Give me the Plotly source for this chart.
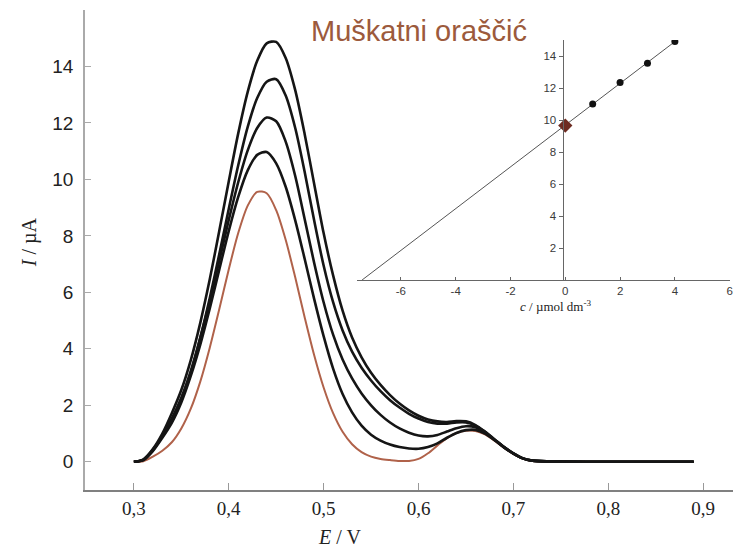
import numpy as np
import plotly.graph_objects as go

# Differential pulse voltammograms: sample (brown) + four standard additions (black)
potential = [0.30, 0.31, 0.32, 0.33, 0.34, 0.35, 0.36, 0.37, 0.38, 0.39,
             0.40, 0.41, 0.42, 0.43, 0.44, 0.45, 0.46, 0.47, 0.48, 0.49,
             0.50, 0.51, 0.52, 0.53, 0.54, 0.55, 0.56, 0.57, 0.58, 0.59,
             0.60, 0.61, 0.62, 0.63, 0.64, 0.65, 0.66, 0.67, 0.68, 0.69,
             0.70, 0.71, 0.72, 0.75, 0.80, 0.85, 0.89]

sample = [0.0, 0.02, 0.18, 0.39, 0.69, 1.18, 1.88, 2.84, 4.04, 5.40,
          6.81, 8.10, 9.07, 9.56, 9.51, 8.91, 7.86, 6.54, 5.12, 3.78,
          2.63, 1.72, 1.06, 0.62, 0.34, 0.18, 0.10, 0.06, 0.03, 0.03,
          0.10, 0.30, 0.58, 0.84, 1.02, 1.10, 1.09, 0.97, 0.75, 0.50,
          0.28, 0.11, 0.03, 0.01, 0.0, 0.0, 0.0]

added_1 = [0.0, 0.06, 0.38, 0.85, 1.38, 2.10, 3.04, 4.15, 5.43, 6.80,
           8.17, 9.38, 10.32, 10.87, 10.97, 10.57, 9.74, 8.56, 7.19, 5.77,
           4.45, 3.30, 2.40, 1.75, 1.28, 0.96, 0.75, 0.61, 0.52, 0.47,
           0.46, 0.52, 0.65, 0.85, 1.02, 1.12, 1.13, 1.00, 0.77, 0.51,
           0.29, 0.12, 0.04, 0.01, 0.0, 0.0, 0.0]

added_2 = [0.0, 0.07, 0.40, 0.90, 1.45, 2.20, 3.15, 4.38, 5.69, 7.11,
           8.56, 9.90, 11.03, 11.82, 12.19, 12.06, 11.34, 10.13, 8.60, 7.05,
           5.65, 4.50, 3.62, 2.95, 2.42, 2.00, 1.66, 1.39, 1.18, 1.03,
           0.93, 0.90, 0.95, 1.07, 1.19, 1.26, 1.22, 1.03, 0.78, 0.52,
           0.29, 0.12, 0.04, 0.01, 0.0, 0.0, 0.0]

added_3 = [0.0, 0.08, 0.42, 0.92, 1.53, 2.27, 3.22, 4.40, 5.80, 7.35,
           8.95, 10.50, 11.86, 12.88, 13.46, 13.55, 12.97, 11.83, 10.27, 8.55,
           6.95, 5.65, 4.65, 3.90, 3.33, 2.88, 2.50, 2.18, 1.92, 1.70,
           1.53, 1.41, 1.35, 1.35, 1.39, 1.39, 1.28, 1.06, 0.79, 0.52,
           0.30, 0.12, 0.04, 0.01, 0.0, 0.0, 0.0]

added_4 = [0.0, 0.08, 0.45, 1.00, 1.72, 2.54, 3.60, 4.92, 6.46, 8.17,
           9.93, 11.63, 13.10, 14.20, 14.82, 14.87, 14.30, 13.17, 11.61, 9.85,
           8.10, 6.60, 5.35, 4.40, 3.70, 3.15, 2.72, 2.36, 2.06, 1.82,
           1.63, 1.50, 1.43, 1.41, 1.44, 1.43, 1.30, 1.07, 0.80, 0.53,
           0.30, 0.12, 0.04, 0.01, 0.0, 0.0, 0.0]

# calibration inset (standard addition)
conc = [0, 1, 2, 3, 4]
peak_current = [9.65, 11.0, 12.35, 13.55, 14.9]

x_tickvals = [0.3, 0.4, 0.5, 0.6, 0.7, 0.8, 0.9]
x_ticktext = ["0,3", "0,4", "0,5", "0,6", "0,7", "0,8", "0,9"]
y_tickvals = [0, 2, 4, 6, 8, 10, 12, 14]
inset_xvals = [-6, -4, -2, 0, 2, 4, 6]
inset_xtext = ["-6", "-4", "-2", "0", "2", "4", "6"]
inset_yvals = [2, 4, 6, 8, 10, 12, 14]

BROWN = "#b0624a"
SANS = "Liberation Sans, Arial, sans-serif"
SERIF = "Liberation Serif, Times New Roman, serif"

fig = go.Figure()

fig.add_trace(go.Scatter(x=potential, y=sample, mode="lines",
                         line=dict(color=BROWN, width=2, shape="spline", smoothing=0.8)))
for curve in [added_1, added_2, added_3, added_4]:
    fig.add_trace(go.Scatter(x=potential, y=curve, mode="lines",
                             line=dict(color="#151515", width=2.6, shape="spline", smoothing=0.8)))

# fit line for the inset
slope, intercept = np.polyfit(conc, peak_current, 1)
fit_x = np.array([-intercept / slope, conc[-1] + 0.1])
fig.add_trace(go.Scatter(x=fit_x, y=slope * fit_x + intercept, mode="lines",
                         line=dict(color="#555555", width=1), xaxis="x2", yaxis="y2"))
fig.add_trace(go.Scatter(x=conc[1:], y=peak_current[1:], mode="markers",
                         marker=dict(color="#111111", size=7), xaxis="x2", yaxis="y2"))
fig.add_trace(go.Scatter(x=conc[:1], y=peak_current[:1], mode="markers",
                         marker=dict(color="#6e2c22", size=11, symbol="diamond"),
                         xaxis="x2", yaxis="y2"))

# page body has an 8px margin, so the figure is 8px smaller than the window
fig.update_layout(
    width=733, height=543,
    margin=dict(l=77, r=0, t=2, b=61),
    paper_bgcolor="white", plot_bgcolor="rgba(0,0,0,0)",
    showlegend=False,
    xaxis=dict(domain=[0, 1], range=[0.2485, 0.9378], tickvals=x_tickvals, ticktext=x_ticktext,
               ticks="inside", ticklen=7, tickcolor="#999999", showline=True, linecolor="#808080",
               linewidth=2, showgrid=False, zeroline=False,
               tickfont=dict(family=SERIF, size=19, color="#222222")),
    yaxis=dict(domain=[0, 1], range=[-1.0, 16.0], tickvals=y_tickvals,
               ticks="inside", ticklen=6, tickcolor="#aaaaaa", showline=True, linecolor="#aaaaaa",
               linewidth=1.5, showgrid=False, zeroline=False, ticklabelstandoff=6,
               tickfont=dict(family=SANS, size=19, color="#222222")),
    xaxis2=dict(domain=[0.416, 0.987], anchor="y2", range=[-7.6, 6.03], tickvals=inset_xvals,
                ticktext=inset_xtext, ticks="inside", ticklen=3, tickcolor="#666666",
                showline=True, linecolor="#666666", linewidth=1, showgrid=False, zeroline=False,
                tickfont=dict(family=SANS, size=11.5, color="#3a3a3a")),
    yaxis2=dict(domain=[0.4375, 0.9375], anchor="free", position=0.7302, range=[0, 15],
                tickvals=inset_yvals, ticks="outside", ticklen=4, tickcolor="#666666",
                showline=True, linecolor="#666666", linewidth=1, showgrid=False, zeroline=False,
                tickfont=dict(family=SANS, size=11.5, color="#3a3a3a")),
    annotations=[
        dict(text="Muškatni oraščić", x=0.5107, y=0.956, xref="paper", yref="paper",
             xanchor="center", yanchor="middle", showarrow=False,
             font=dict(family=SANS, size=29, color="#9c5a3c")),
        dict(text="<i>I</i> / µA", x=-0.085, y=0.517, xref="paper", yref="paper",
             xanchor="center", yanchor="middle", showarrow=False, textangle=-90,
             font=dict(family=SERIF, size=20, color="#222222")),
        dict(text="<i>E</i> / V", x=0.3887, y=-0.098, xref="paper", yref="paper",
             xanchor="center", yanchor="middle", showarrow=False,
             font=dict(family=SERIF, size=20, color="#222222")),
        dict(text="<i>c</i> / µmol dm<sup>-3</sup>", x=0.7195, y=0.383, xref="paper", yref="paper",
             xanchor="center", yanchor="middle", showarrow=False,
             font=dict(family=SERIF, size=13, color="#222222")),
    ],
)

fig.write_html("out.html")
